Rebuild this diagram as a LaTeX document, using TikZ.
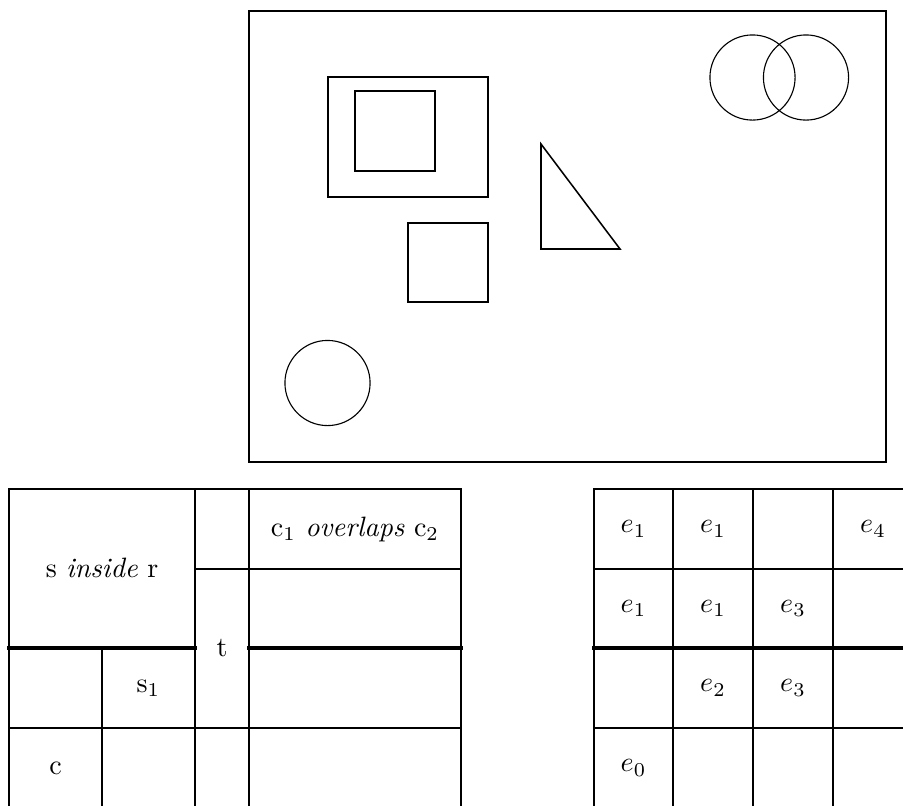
\documentclass[tikz,border=0pt]{standalone}
\begin{document}
\begin{tikzpicture}[x=0.357pt,y=-0.357pt,
  frame/.style={line width=1pt},
  box/.style={line width=0.75pt},
  tri/.style={line width=0.55pt, line join=miter},
  ring/.style={line width=0.4pt},
  gridline/.style={line width=0.85pt, line cap=rect},
  heavyline/.style={line width=1.1pt, line cap=rect},
  lbl/.style={inner sep=0pt}]
\useasboundingbox (0,0) rectangle (903,805);
\clip (0,0) rectangle (903,805);
% ---------- scene ----------
\draw[frame] (249,11) rectangle (886,462);
\draw[box] (328,77) rectangle (488,197);
\draw[box] (355,91) rectangle (435,171);
\draw[box] (408,223) rectangle (488,302);
\draw[tri] (541,144) -- (541,249) -- (620,249) -- cycle;
\draw[ring] (327.5,383) circle[radius=15.2pt];
\draw[ring] (752.5,77.5) circle[radius=15.2pt];
\draw[ring] (806,77.5) circle[radius=15.2pt];
% ---------- left table ----------
\draw[gridline] (9,489) -- (461,489);
\draw[gridline] (195,569) -- (461,569);
\draw[heavyline] (9,648) -- (195,648);
\draw[heavyline] (249,648) -- (461,648);
\draw[gridline] (9,728) -- (461,728);
\draw[gridline] (9,489) -- (9,820);
\draw[gridline] (102,648) -- (102,820);
\draw[gridline] (195,489) -- (195,820);
\draw[gridline] (249,489) -- (249,820);
\draw[gridline] (461,489) -- (461,820);
\node[lbl] (sr) at (102,568) {s \textit{inside} r};
\node[lbl] (co) at (355,529) {c$_1$ \textit{overlaps} c$_2$};
\node[lbl] (t) at (222,648) {t};
\node[lbl] (s1) at (148.5,688) {s$_1$};
\node[lbl] (c) at (55.5,768) {c};
% ---------- right table ----------
\draw[gridline] (594,489) -- (920,489);
\draw[gridline] (594,569) -- (920,569);
\draw[heavyline] (594,648) -- (920,648);
\draw[gridline] (594,728) -- (920,728);
\draw[gridline] (594,489) -- (594,820);
\draw[gridline] (673,489) -- (673,820);
\draw[gridline] (753,489) -- (753,820);
\draw[gridline] (833,489) -- (833,820);
\node[lbl] (e11) at (633.5,529) {$e_1$};
\node[lbl] (e12) at (713,529) {$e_1$};
\node[lbl] (e14) at (873,529) {$e_4$};
\node[lbl] (e21) at (633.5,608.5) {$e_1$};
\node[lbl] (e22) at (713,608.5) {$e_1$};
\node[lbl] (e23) at (793,608.5) {$e_3$};
\node[lbl] (e32) at (713,688) {$e_2$};
\node[lbl] (e33) at (793,688) {$e_3$};
\node[lbl] (e41) at (633.5,768) {$e_0$};
\end{tikzpicture}
\end{document}
